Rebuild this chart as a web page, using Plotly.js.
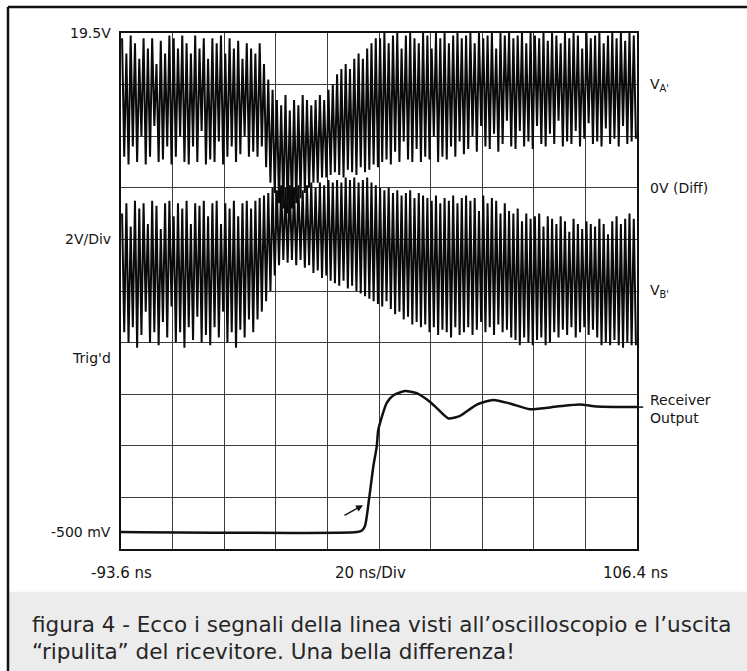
<!DOCTYPE html>
<html>
<head>
<meta charset="utf-8">
<script src="https://cdn.plot.ly/plotly-3.0.1.min.js"></script>
<style>
  html, body { margin: 0; padding: 0; background: #ffffff; }
  #chart { width: 747px; height: 671px; }
</style>
</head>
<body>
<div id="chart"></div>
<script>
// ---- time base (ns) ----
const timeStart = -93.6;
const timeEnd = 106.4;

// ---- V_A' trace: successive peak / trough levels (divisions, 0 = bottom of screen) ----
const vaPeaks = [
  9.9, 9.6, 9.95, 9.8, 9.5, 9.9, 9.7, 9.9, 9.4, 9.85,
  9.6, 9.95, 9.9, 9.7, 9.95, 9.8, 9.6, 9.95, 9.7, 9.9,
  9.5, 9.9, 9.8, 9.95, 9.6, 9.9, 9.7, 9.85, 9.5, 9.8,
  9.7, 9.6, 9.8, 9.4, 9.1, 8.9, 8.7, 8.6, 8.8, 8.5,
  8.7, 8.6, 8.8, 8.7, 8.6, 8.7, 8.8, 8.7, 8.9, 9.0,
  9.2, 9.3, 9.4, 9.3, 9.5, 9.6, 9.5, 9.7, 9.8, 9.9,
  9.9, 10, 9.8, 9.95, 10, 9.7, 9.95, 10, 9.9, 9.8,
  10, 9.95, 9.7, 10, 9.9, 10, 9.8, 9.95, 10, 9.9,
  9.95, 10, 9.8, 10, 9.9, 9.95, 10, 9.7, 10, 9.95,
  10, 9.9, 9.95, 10, 9.8, 10, 9.95, 9.9, 10, 9.85,
  10, 9.95, 9.8, 10, 9.9, 10, 9.95, 9.7, 10, 9.9,
  9.95, 10, 9.8, 9.95, 10, 9.9, 10, 9.85, 10, 9.95
];
const vaTroughs = [
  7.6, 7.45, 7.8, 7.5, 8.0, 7.45, 7.6, 8.2, 7.5, 7.55,
  7.8, 7.45, 7.6, 8.0, 7.5, 7.45, 7.8, 7.5, 8.1, 7.45,
  7.55, 7.5, 7.9, 7.45, 7.6, 7.8, 7.5, 7.65, 8.0, 7.6,
  7.7, 7.6, 7.8, 7.4, 7.1, 6.9, 6.7, 6.6, 6.5, 6.6,
  6.7, 6.8, 6.9, 7.0, 7.1, 7.1, 7.2, 7.2, 7.25, 7.3,
  7.25, 7.2, 7.35, 7.3, 7.25, 7.4, 7.3, 7.35, 7.45, 7.4,
  7.5, 7.55, 7.45, 7.7, 7.5, 7.9, 7.55, 7.5, 7.75, 7.5,
  7.6, 7.55, 8.0, 7.5, 7.6, 7.55, 7.8, 7.6, 7.9, 7.65,
  7.75, 8.0, 7.7, 8.2, 7.8, 7.75, 8.05, 7.7, 7.85, 8.3,
  7.8, 7.75, 8.1, 7.8, 7.9, 7.75, 8.2, 7.85, 7.8, 8.05,
  7.85, 8.3, 7.8, 7.9, 7.85, 8.1, 7.8, 7.95, 8.25, 7.85,
  7.9, 7.8, 8.15, 7.85, 7.95, 7.8, 8.2, 7.85, 7.9, 7.95
];

// ---- V_B' trace ----
const vbPeaks = [
  6.5, 6.7, 6.25, 6.75, 6.6, 6.7, 6.3, 6.75, 6.65, 6.2,
  6.7, 6.75, 6.45, 6.7, 6.6, 6.75, 6.3, 6.7, 6.65, 6.75,
  6.45, 6.7, 6.75, 6.3, 6.7, 6.6, 6.75, 6.45, 6.7, 6.75,
  6.6, 6.75, 6.8, 6.85, 6.9, 7.0, 6.95, 7.05, 7.0, 7.05,
  7.0, 7.05, 6.95, 7.05, 7.1, 7.0, 7.1, 7.05, 7.15, 7.1,
  7.15, 7.1, 7.2, 7.15, 7.2, 7.1, 7.15, 7.2, 7.1, 7.05,
  7.0, 6.95, 7.0, 6.9, 6.95, 6.85, 6.9, 6.95, 6.8, 6.9,
  6.85, 6.8, 6.75, 6.85, 6.7, 6.8, 6.75, 6.85, 6.7, 6.8,
  6.85, 6.75, 6.8, 6.55, 6.85, 6.7, 6.8, 6.75, 6.5, 6.7,
  6.55, 6.5, 6.6, 6.35, 6.5, 6.4, 6.45, 6.5, 6.25, 6.45,
  6.4, 6.3, 6.45, 6.35, 6.15, 6.4, 6.3, 6.2, 6.35, 6.3,
  6.25, 6.4, 6.3, 6.1, 6.35, 6.45, 6.3, 6.4, 6.5, 6.4
];
const vbTroughs = [
  4.2, 4.0, 4.3, 3.9, 4.15, 4.6, 4.0, 4.2, 3.95, 4.4,
  4.1, 4.7, 4.0, 4.2, 3.9, 4.3, 4.05, 4.5, 4.0, 4.15,
  3.95, 4.3, 4.1, 4.6, 4.0, 4.2, 3.9, 4.25, 4.1, 4.45,
  4.2, 4.45, 4.6, 4.8, 5.0, 5.3, 5.5, 5.6, 5.55, 5.6,
  5.5, 5.6, 5.45, 5.5, 5.35, 5.4, 5.25, 5.3, 5.2, 5.15,
  5.1, 5.2, 5.05, 5.1, 5.0, 4.95, 4.9, 4.85, 4.8, 4.75,
  4.7, 4.8, 4.65, 4.55, 4.6, 4.45, 4.5, 4.35, 4.4, 4.3,
  4.35, 4.2, 4.3, 4.15, 4.25, 4.2, 4.1, 4.3, 4.15, 4.2,
  4.3, 4.15, 4.25, 4.4, 4.2, 4.3, 4.15, 4.35, 4.2, 4.25,
  4.1, 4.05, 3.95, 4.1, 4.0, 3.95, 4.05, 4.1, 3.95, 4.0,
  4.2, 4.1, 4.25, 4.15, 4.3, 4.1, 4.2, 4.3, 4.15, 4.25,
  4.1, 3.95, 4.0, 3.95, 4.05, 3.95, 3.9, 4.0, 3.95, 3.95
];

// ---- Receiver output (time ns, level in divisions) ----
const rxTime = [-93.6, -2.1, -0.2, 1.0, 2.6, 4.2, 5.5, 6.1, 7.5, 9.4, 12.0, 16.5, 21.0, 26.2, 28.8, 33.3, 37.8, 44.3, 50.7, 57.2, 64.9, 75.3, 84.3, 90.8, 106.4];
const rxLevel = [0.33, 0.33, 0.36, 0.45, 0.99, 1.6, 1.98, 2.3, 2.56, 2.83, 2.98, 3.06, 3.02, 2.85, 2.73, 2.53, 2.58, 2.8, 2.89, 2.82, 2.71, 2.76, 2.8, 2.76, 2.75];

// ---- labels ----
const leftLabels = ["19.5V", "2V/Div", "Trig'd", "-500 mV"];
const rightLabels = ["V<sub>A'</sub>", "0V (Diff)", "V<sub>B'</sub>", "Receiver<br>Output"];
const bottomLabels = ["-93.6 ns", "20 ns/Div", "106.4 ns"];
const captionLines = [
  "figura 4 - Ecco i segnali della linea visti all\u2019oscilloscopio e l\u2019uscita",
  "\u201Cripulita\u201D del ricevitore. Una bella differenza!"
];

function zigzag(peaks, troughs) {
  const n = peaks.length;
  const cyc = (timeEnd - timeStart) / n;
  const xs = [], ys = [];
  for (let j = 0; j < n; j++) {
    xs.push(timeStart + (j + 0.25) * cyc); ys.push(peaks[j]);
    xs.push(timeStart + (j + 0.75) * cyc); ys.push(troughs[j]);
  }
  return {x: xs, y: ys};
}

const va = zigzag(vaPeaks, vaTroughs);
const vb = zigzag(vbPeaks, vbTroughs);

const traces = [
  {x: va.x, y: va.y, type: 'scatter', mode: 'lines', line: {color: '#0a0a0a', width: 2}, hoverinfo: 'skip'},
  {x: vb.x, y: vb.y, type: 'scatter', mode: 'lines', line: {color: '#0a0a0a', width: 2}, hoverinfo: 'skip'},
  {x: rxTime, y: rxLevel, type: 'scatter', mode: 'lines', line: {color: '#111', width: 2.5, shape: 'spline', smoothing: 0.6}, hoverinfo: 'skip'}
];

const scopeFont = {family: 'DejaVu Sans, sans-serif', size: 14, color: '#151515'};
const bottomFont = {family: 'DejaVu Sans, sans-serif', size: 15, color: '#151515'};
const captionFont = {family: 'DejaVu Sans, sans-serif', size: 21.5, color: '#262626'};

const leftY = [10, 6, 3.7, 0.33];
const rightY = [9, 7, 5, 2.72];
const bottomX = [0, 0.483, 0.998];
const captionY = [-0.147, -0.198];

const annotations = [];
leftLabels.forEach((t, i) => annotations.push({
  text: t, xref: 'paper', x: 0, xanchor: 'right', xshift: -8,
  yref: 'y', y: leftY[i], yanchor: 'middle', showarrow: false, font: scopeFont
}));
rightLabels.forEach((t, i) => annotations.push({
  text: t, xref: 'paper', x: 1.021, xanchor: 'left', align: 'left',
  yref: 'y', y: rightY[i], yanchor: 'middle', showarrow: false, font: scopeFont
}));
bottomLabels.forEach((t, i) => annotations.push({
  text: t, xref: 'paper', x: bottomX[i], xanchor: 'center',
  yref: 'paper', y: -0.047, yanchor: 'middle', showarrow: false, font: bottomFont
}));
// trigger arrow
annotations.push({
  text: '', xref: 'x', yref: 'y', x: 0.2, y: 0.85, ax: -20, ay: 11,
  showarrow: true, arrowhead: 2, arrowsize: 1, arrowwidth: 1.4, arrowcolor: '#111'
});
// caption
captionLines.forEach((t, i) => annotations.push({
  text: t, xref: 'paper', x: -0.176, xanchor: 'left', align: 'left',
  yref: 'paper', y: captionY[i], yanchor: 'middle', showarrow: false, font: captionFont
}));

const shapes = [
  // caption background
  {type: 'rect', xref: 'paper', yref: 'paper', x0: -0.217, x1: 1.22, y0: -0.24, y1: -0.083,
   fillcolor: '#ececec', line: {width: 0}, layer: 'below'},
  // frame top
  {type: 'line', xref: 'paper', yref: 'paper', x0: -0.219, x1: 1.22, y0: 1.0504, y1: 1.0504,
   line: {color: '#111', width: 2.5}},
  // frame left
  {type: 'line', xref: 'paper', yref: 'paper', x0: -0.219, x1: -0.219, y0: 1.0504, y1: -0.24,
   line: {color: '#111', width: 2.5}},
  // receiver label lead line
  {type: 'line', xref: 'paper', yref: 'y', x0: 1.0, x1: 1.012, y0: 2.75, y1: 2.75,
   line: {color: '#111', width: 1.5}}
];

const layout = {
  width: 747, height: 671,
  margin: {l: 121, r: 110, t: 33, b: 122},
  paper_bgcolor: '#ffffff', plot_bgcolor: '#ffffff',
  showlegend: false,
  xaxis: {range: [timeStart, timeEnd], tick0: timeStart, dtick: 20, showticklabels: false,
          ticks: '', showgrid: true, gridcolor: '#3c3c3c', gridwidth: 1, zeroline: false,
          showline: true, mirror: true, linecolor: '#111', linewidth: 2, fixedrange: true},
  yaxis: {range: [0, 10], tick0: 0, dtick: 1, showticklabels: false, ticks: '',
          showgrid: true, gridcolor: '#3c3c3c', gridwidth: 1, zeroline: false,
          showline: true, mirror: true, linecolor: '#111', linewidth: 2, fixedrange: true},
  annotations: annotations,
  shapes: shapes
};

Plotly.newPlot('chart', traces, layout, {staticPlot: true, displayModeBar: false});
</script>
</body>
</html>
